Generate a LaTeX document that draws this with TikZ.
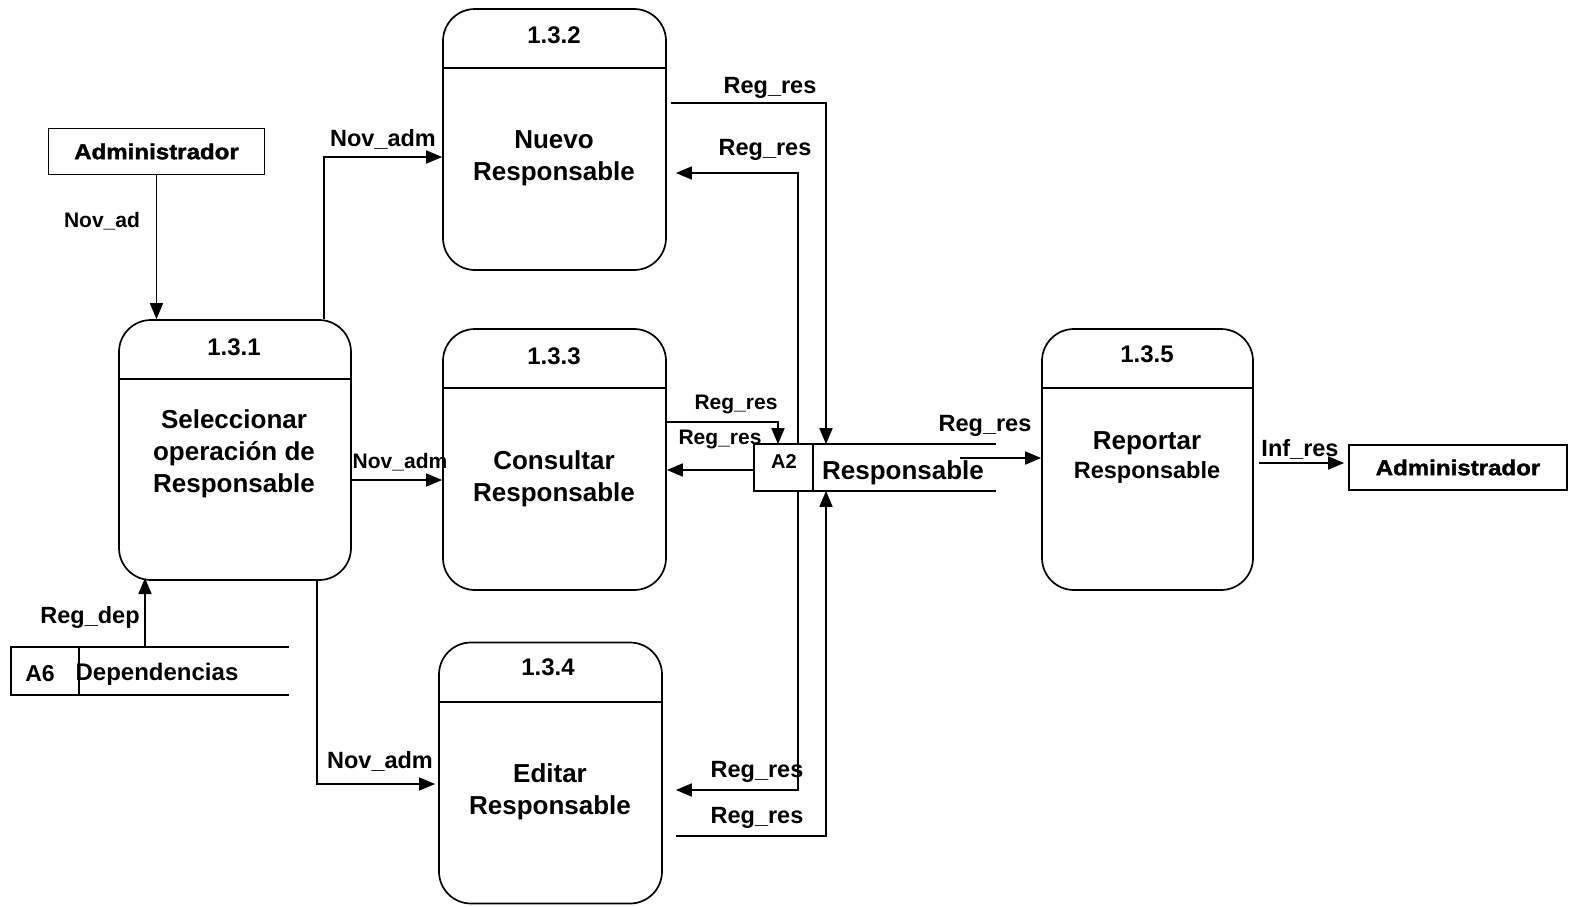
\documentclass[tikz,border=0pt]{standalone}
\usepackage{fontspec}
\setmainfont{Liberation Sans}
\newfontfamily\heavyfont[FakeBold=1.8,FakeStretch=1.12]{Liberation Sans Bold}
\usetikzlibrary{arrows.meta,calc}
\begin{document}
\begin{tikzpicture}[x=1pt,y=-1pt,line width=1.7pt,
  >={Triangle[length=16pt,width=13pt]},
  proc/.style={draw,rounded corners=32pt,inner sep=0pt,minimum width=223pt,minimum height=261pt},
  ent/.style={draw,inner sep=0pt,minimum width=216pt,minimum height=46pt,
    font=\heavyfont\fontsize{21.5}{26}\selectfont},
  ttl/.style={inner sep=0pt,font=\bfseries\fontsize{24}{28}\selectfont},
  body/.style={inner sep=0pt,align=center,yshift=-3pt,font=\bfseries\fontsize{26}{32}\selectfont},
  lbl/.style={inner sep=0pt,yshift=-3pt,font=\bfseries\fontsize{23.5}{28}\selectfont},
  slbl/.style={inner sep=0pt,yshift=-2pt,font=\bfseries\fontsize{21}{24}\selectfont},
  store/.style={inner sep=0pt}]
\useasboundingbox (0,0) rectangle (1572,906);

% processes
\node[proc] (p132) at (554.5,139.5) {};
\node[proc,minimum width=232pt,minimum height=260pt] (p131) at (235,450) {};
\node[proc] (p133) at (554.5,459.5) {};
\node[proc] (p134) at (550.5,773) {};
\node[proc,minimum width=211pt] (p135) at (1147.5,459.5) {};
\foreach \p in {p131,p132,p133,p134,p135}
  \draw ([yshift=-60pt]\p.north west) -- ([yshift=-60pt]\p.north east);

\node[ttl] (t132) at (554,35) {1.3.2};
\node[body] (b132) at (554,155) {Nuevo\\Responsable};
\node[ttl] (t131) at (234,347) {1.3.1};
\node[body] (b131) at (234,451) {Seleccionar\\operación de\\Responsable};
\node[ttl] (t133) at (554,356) {1.3.3};
\node[body] (b133) at (554,476) {Consultar\\Responsable};
\node[ttl] (t134) at (548,667) {1.3.4};
\node[body] (b134) at (550,789) {Editar\\Responsable};
\node[ttl] (t135) at (1147,354) {1.3.5};
\node[body,font=\bfseries\fontsize{26}{30}\selectfont] (b135a) at (1147,440) {Reportar};
\node[body,font=\bfseries\fontsize{23.5}{28}\selectfont] (b135b) at (1147,469) {Responsable};

% external entities
\node[ent] (adm1) at (156.5,151.5) {Administrador};
\node[ent,minimum width=218pt,minimum height=45pt] (adm2) at (1458,467.5) {Administrador};

% data stores
\node[store,minimum width=276pt,minimum height=46pt] (a6) at (150,671) {};
\draw (a6.north east) -- (a6.north west) -- (a6.south west) -- (a6.south east);
\draw (a6.north west -| 79,0) -- (a6.south west -| 79,0);
\node[ttl,yshift=-3pt,font=\bfseries\fontsize{23}{28}\selectfont] (a6id) at (40,671) {A6};
\node[ttl,yshift=-3pt] (a6name) at (157,671) {Dependencias};

\node[store,minimum width=240pt,minimum height=45pt] (a2) at (875,467.5) {};
\draw (a2.north east) -- (a2.north west) -- (a2.south west) -- (a2.south east);
\draw (a2.north west -| 813,0) -- (a2.south west -| 813,0);
\node[ttl,yshift=-1pt,font=\bfseries\fontsize{20}{24}\selectfont] (a2id) at (784,461) {A2};
\node[body] (a2name) at (903,470) {Responsable};

% flows from the administrator and the dependencies store
\draw[->] (adm1.south) -- (adm1.south |- p131.north);
\node[slbl] at (102,219) {Nov\_ad};
\draw[->] (a6.north -| 145,0) -- (145,578);
\node[lbl] at (90,614) {Reg\_dep};

% flows leaving 1.3.1
\draw[->] (p131.north -| 324,0) -- (324,157) -- (p132.west |- 0,157);
\node[lbl] at (383,136) {Nov\_adm};
\draw[->] (p131.east |- 0,480) -- (p133.west |- 0,480);
\node[slbl] at (400,460) {Nov\_adm};
\draw[->] (p131.south -| 317,0) -- (317,784) -- ([xshift=-3pt]p134.west |- 0,784);
\node[lbl] at (380,758) {Nov\_adm};

% flows between the processes and store A2
\draw[->] ([xshift=4pt]p132.east |- 0,103) -- (826,103) -- (a2.north -| 826,0);
\node[lbl] at (770,85) {Reg\_res};
\draw[->] (a2.north -| 798,0) -- (798,173) -- ([xshift=9pt]p132.east |- 0,173);
\node[lbl] at (765,147) {Reg\_res};
\draw[->] (p133.east |- 0,422) -- (778,422) -- (a2.north -| 778,0);
\node[slbl] at (736,402) {Reg\_res};
\draw[->] (a2.west |- 0,470) -- (p133.east |- 0,470);
\node[slbl] at (720,437) {Reg\_res};
\draw[->] (a2.south -| 798,0) -- (798,790) -- ([xshift=13pt]p134.east |- 0,790);
\node[lbl] at (757,769) {Reg\_res};
\draw[->] ([xshift=13pt]p134.east |- 0,836) -- (826,836) -- (a2.south -| 826,0);
\node[lbl] at (757,815) {Reg\_res};
\draw[->] (960,458) -- (p135.west |- 0,458);
\node[lbl] at (985,423) {Reg\_res};

% report to the administrator
\draw[->] ([xshift=5pt]p135.east |- 0,463) -- ([xshift=-4pt]adm2.west |- 0,463);
\node[lbl] at (1300,446) {Inf\_res};
\end{tikzpicture}
\end{document}
